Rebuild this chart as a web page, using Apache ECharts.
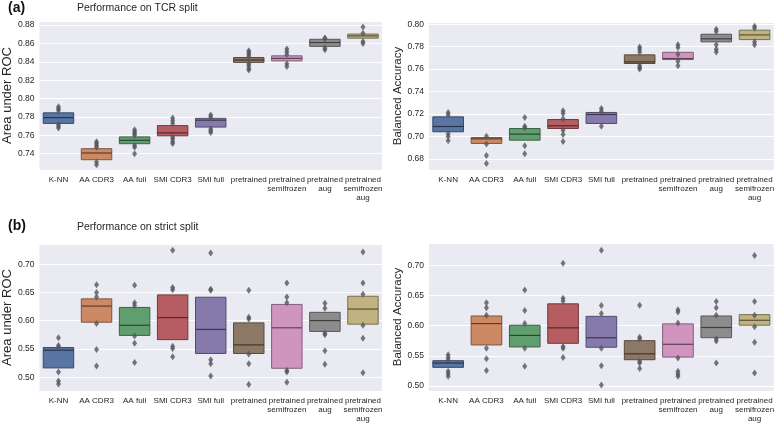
<!DOCTYPE html>
<html><head><meta charset="utf-8">
<script src="https://cdn.jsdelivr.net/npm/echarts@6/dist/echarts.min.js"></script>
<style>html,body{margin:0;padding:0;background:#fff}#c{width:777px;height:423px}</style>
</head><body><div id="c"></div>
<script>
const categories = ['K-NN','AA CDR3','AA full','SMI CDR3','SMI full','pretrained','pretrained\nsemifrozen','pretrained\naug','pretrained\nsemifrozen\naug'];
const colors = ['#5875a4','#cc8963','#5f9e6e','#b55d60','#857aab','#8d7866','#d095bf','#8c8c8c','#c1b37f'];

// Panel (a) left: TCR split, AUROC
const tcrAucQ1  = [0.7730,0.7335,0.7509,0.7595,0.7690,0.8394,0.8410,0.8568,0.8657];
const tcrAucMed = [0.7793,0.7408,0.7546,0.7627,0.7765,0.8420,0.8437,0.8610,0.8682];
const tcrAucQ3  = [0.7845,0.7455,0.7583,0.7706,0.7785,0.8447,0.8465,0.8645,0.8702];
const tcrAucOut = [
  [0.791,0.789,0.787,0.772,0.770,0.768],
  [0.753,0.751,0.749,0.747,0.731,0.728],
  [0.766,0.764,0.762,0.760,0.749,0.747,0.740],
  [0.779,0.776,0.773,0.758,0.756,0.753,0.751],
  [0.782,0.780,0.767,0.765,0.763],
  [0.852,0.850,0.848,0.846,0.838,0.836,0.833,0.831],
  [0.854,0.851,0.848,0.838,0.835],
  [0.866,0.865,0.855,0.853],
  [0.878,0.871,0.862,0.860]
];
// Panel (a) right: TCR split, balanced accuracy
const tcrBaQ1  = [0.7041,0.6937,0.6966,0.7070,0.7115,0.7650,0.7685,0.7843,0.7863];
const tcrBaMed = [0.7088,0.6978,0.7020,0.7094,0.7195,0.7664,0.7694,0.7870,0.7905];
const tcrBaQ3  = [0.7174,0.6990,0.7070,0.7150,0.7213,0.7727,0.7750,0.7911,0.7947];
const tcrBaOut = [
  [0.7213,0.7190,0.7023,0.6999,0.6960],
  [0.7002,0.6931,0.6830,0.6758],
  [0.7168,0.7090,0.7076,0.6916,0.6845],
  [0.7228,0.7204,0.7156,0.7055,0.7017,0.6955],
  [0.7249,0.7225,0.7091],
  [0.7798,0.7777,0.7753,0.7632,0.7614,0.7600],
  [0.7816,0.7792,0.7733,0.7670,0.7629],
  [0.7955,0.7935,0.7816,0.7777,0.7753],
  [0.7982,0.7964,0.7843,0.7816]
];
// Panel (b) left: strict split, AUROC
const strAucQ1  = [0.5164,0.5974,0.5740,0.5665,0.5420,0.5420,0.5158,0.5811,0.5939];
const strAucMed = [0.5478,0.6260,0.5920,0.6056,0.5846,0.5572,0.5875,0.6003,0.6207];
const strAucQ3  = [0.5525,0.6388,0.6236,0.6458,0.6417,0.5962,0.6289,0.6149,0.6434];
const strAucOut = [
  [0.570,0.556,0.553,0.509,0.493,0.488],
  [0.664,0.650,0.642,0.595,0.549,0.520],
  [0.663,0.632,0.627,0.573,0.560,0.526],
  [0.725,0.659,0.655,0.555,0.551,0.536],
  [0.720,0.656,0.654,0.531,0.524,0.502],
  [0.654,0.606,0.603,0.541,0.524,0.487],
  [0.667,0.642,0.632,0.512,0.509,0.491],
  [0.631,0.622,0.578,0.575,0.547,0.523],
  [0.722,0.667,0.647,0.592,0.569,0.508]
];
// Panel (b) right: strict split, balanced accuracy
const strBaQ1  = [0.5310,0.5681,0.5648,0.5708,0.5643,0.5436,0.5480,0.5801,0.6008];
const strBaMed = [0.5381,0.6035,0.5839,0.5964,0.5801,0.5534,0.5692,0.5970,0.6090];
const strBaQ3  = [0.5420,0.6161,0.6008,0.6362,0.6155,0.5752,0.6030,0.6161,0.6183];
const strBaOut = [
  [0.5518,0.5474,0.5430,0.5245,0.5207,0.5163],
  [0.6379,0.6297,0.6172,0.5627,0.5452,0.5256],
  [0.6591,0.6253,0.6035,0.5627,0.5327],
  [0.7033,0.6455,0.6411,0.5654,0.5627,0.5474],
  [0.7251,0.6335,0.6204,0.5627,0.5338,0.5016],
  [0.634,0.581,0.578,0.541,0.538,0.529],
  [0.6264,0.6226,0.6046,0.5463,0.5245,0.5201,0.5163],
  [0.640,0.6297,0.6172,0.5785,0.5747,0.538],
  [0.7164,0.640,0.6172,0.5981,0.5725,0.5218]
];

const panels = [
  {q1:tcrAucQ1,med:tcrAucMed,q3:tcrAucQ3,out:tcrAucOut,name:'Area under ROC',nameSize:13,nameGap:22,min:0.7223,max:0.8844,step:0.02,grid:{left:33,top:21,width:349,height:149}},
  {q1:tcrBaQ1,med:tcrBaMed,q3:tcrBaQ3,out:tcrBaOut,name:'Balanced Accuracy',nameSize:11.5,nameGap:25,min:0.670,max:0.802,step:0.02,grid:{left:429,top:22,width:347,height:148}},
  {q1:strAucQ1,med:strAucMed,q3:strAucQ3,out:strAucOut,name:'Area under ROC',nameSize:13,nameGap:22,min:0.4755,max:0.736,step:0.05,grid:{left:33,top:244,width:349,height:149}},
  {q1:strBaQ1,med:strBaMed,q3:strBaQ3,out:strBaOut,name:'Balanced Accuracy',nameSize:11.5,nameGap:25,min:0.4918,max:0.737,step:0.05,grid:{left:429,top:243,width:347,height:150}}
];

function shade(hex,f){
  const n=parseInt(hex.slice(1),16);
  const r=Math.round(((n>>16)&255)*f),g=Math.round(((n>>8)&255)*f),b=Math.round((n&255)*f);
  return 'rgb('+r+','+g+','+b+')';
}

const grids=[],xAxes=[],yAxes=[],series=[];
panels.forEach((p,k)=>{
  grids.push(Object.assign({show:true,backgroundColor:'#eaeaf2',borderWidth:0,containLabel:false},p.grid));
  xAxes.push({type:'category',gridIndex:k,data:categories,
    axisLine:{show:false},axisTick:{show:false},splitLine:{show:false},
    axisLabel:{interval:0,color:'#262626',fontSize:8,lineHeight:9,margin:5,fontFamily:'Liberation Sans, Arial, sans-serif'}});
  yAxes.push({type:'value',gridIndex:k,min:p.min,max:p.max,minInterval:p.step,maxInterval:p.step,splitNumber:8,
    name:p.name,nameLocation:'middle',nameGap:p.nameGap,nameRotate:90,
    nameTextStyle:{fontSize:p.nameSize,color:'#262626',fontFamily:'Liberation Sans, Arial, sans-serif'},
    axisLine:{show:false},axisTick:{show:false},
    splitLine:{show:true,lineStyle:{color:'#ffffff',width:1.2}},
    axisLabel:{color:'#262626',fontSize:8.5,margin:5,fontFamily:'Liberation Sans, Arial, sans-serif',
      formatter:function(v){const r=v/p.step;return Math.abs(r-Math.round(r))<1e-6?v.toFixed(2):'';}}});
  const boxData=categories.map((c,i)=>[i,p.q1[i],p.med[i],p.q3[i]]);
  series.push({type:'custom',xAxisIndex:k,yAxisIndex:k,data:boxData,encode:{x:0,y:[1,2,3]},z:2,
    renderItem:function(params,api){
      const i=api.value(0);
      const top=api.coord([i,api.value(3)]);
      const bot=api.coord([i,api.value(1)]);
      const m=api.coord([i,api.value(2)]);
      const bw=api.size([1,0])[0]*0.8;
      const col=colors[i];
      return {type:'group',children:[
        {type:'rect',shape:{x:top[0]-bw/2,y:top[1],width:bw,height:bot[1]-top[1]},
          style:{fill:col,stroke:shade(col,0.62),lineWidth:1}},
        {type:'line',shape:{x1:m[0]-bw/2,y1:m[1],x2:m[0]+bw/2,y2:m[1]},
          style:{stroke:shade(col,0.45),lineWidth:1.2}}
      ]};
    }});
  const pts=[];
  p.out.forEach((arr,i)=>arr.forEach(v=>pts.push([i,v])));
  series.push({type:'scatter',xAxisIndex:k,yAxisIndex:k,data:pts,symbol:'diamond',symbolSize:[5,7],z:3,
    itemStyle:{color:'#55555d'},silent:true});
});

const chart=echarts.init(document.getElementById('c'),null,{renderer:'canvas'});
chart.setOption({
  animation:false,
  backgroundColor:'#ffffff',
  textStyle:{fontFamily:'Liberation Sans, Arial, sans-serif'},
  title:[
    {text:'{n|(}{b|a}{n|)}',left:3,top:-4,textStyle:{rich:{n:{fontSize:14,color:'#111'},b:{fontSize:14,fontWeight:'bold',color:'#111'}}}},
    {text:'Performance on TCR split',left:72,top:-2,textStyle:{fontSize:10.5,fontWeight:'normal',color:'#262626'}},
    {text:'{n|(}{b|b}{n|)}',left:3,top:214,textStyle:{rich:{n:{fontSize:14,color:'#111'},b:{fontSize:14,fontWeight:'bold',color:'#111'}}}},
    {text:'Performance on strict split',left:72,top:217,textStyle:{fontSize:10.5,fontWeight:'normal',color:'#262626'}}
  ],
  grid:grids,xAxis:xAxes,yAxis:yAxes,series:series
});
</script></body></html>
